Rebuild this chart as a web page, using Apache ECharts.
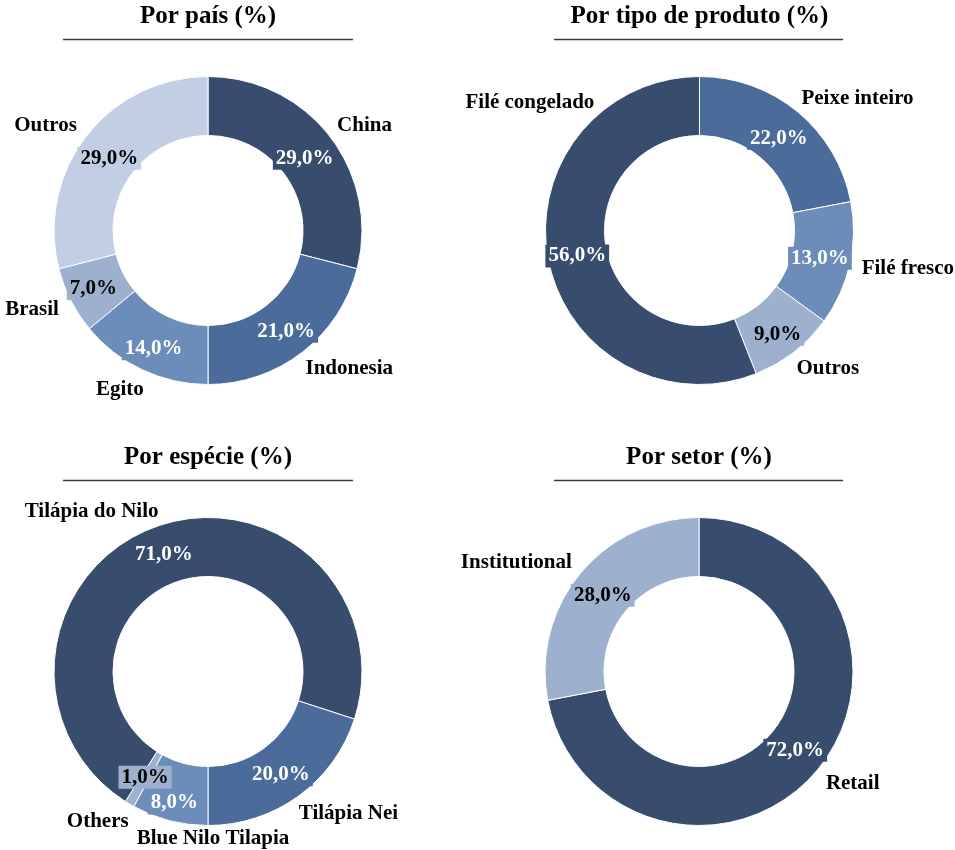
<!DOCTYPE html>
<html><head><meta charset="utf-8">
<script src="https://cdn.jsdelivr.net/npm/echarts@6/dist/echarts.min.js"></script>
<style>html,body{margin:0;padding:0;background:#fff}#c{width:955px;height:850px}</style>
</head><body><div id="c"></div>
<script>
// ---- data ----
const titles = ['Por país (%)', 'Por tipo de produto (%)', 'Por espécie (%)', 'Por setor (%)'];
const paisNames = ['China', 'Indonesia', 'Egito', 'Brasil', 'Outros'];
const paisValues = [29, 21, 14, 7, 29];
const produtoNames = ['Peixe inteiro', 'Filé fresco', 'Outros', 'Filé congelado'];
const produtoValues = [22, 13, 9, 56];
const especieNames = ['Tilápia do Nilo', 'Tilápia Nei', 'Blue Nilo Tilapia', 'Others'];
const especieValues = [71, 20, 8, 1];
const setorNames = ['Retail', 'Institutional'];
const setorValues = [72, 28];

// ---- styling / layout ----
const DARK = '#384D6E', MED = '#4B6B9A', LMED = '#6C8CB9', LIGHT = '#9DB0CE', XLIGHT = '#C2CEE3';
const FONT = '"Liberation Serif", "Times New Roman", serif';

const panels = [
  { title: titles[0], names: paisNames, values: paisValues, center: [208, 230.5], startAngle: 90,
    colors: [DARK, MED, LMED, LIGHT, XLIGHT], text: ['#fff', '#fff', '#fff', '#000', '#000'],
    nameOff: [[4, 13.5], [23, -14], [-6, -16], [-4, -9], [-10, 13.5]],
    valOff: [[-4, 6], [0, 0], [0, 3], [-1, 0], [2, 6]],
    titleY: 4, lineY: 39.5, lineX: [63, 353] },
  { title: titles[1], names: produtoNames, values: produtoValues, center: [699.5, 230.5], startAngle: 90,
    colors: [MED, LMED, LIGHT, DARK], text: ['#fff', '#fff', '#000', '#fff'],
    nameOff: [[35, 17], [20, -4], [10, -14], [20, -164]],
    valOff: [[-2, 6], [-4, 0], [0, 3], [3, 1.5]],
    titleY: 4, lineY: 39.5, lineX: [554, 843] },
  { title: titles[2], names: especieNames, values: especieValues, center: [208, 671.5], startAngle: 237.6,
    colors: [DARK, MED, LMED, LIGHT], text: ['#fff', '#fff', '#fff', '#000'],
    nameOff: [[-51, 21.5], [27, -14], [53, -20], [-12, -16]],
    valOff: [[-1, 3], [-2, 0], [-2, 8], [2, -4]],
    titleY: 444.7, lineY: 480.5, lineX: [63, 353] },
  { title: titles[3], names: setorNames, values: setorValues, center: [699, 671.5], startAngle: 90,
    colors: [DARK, LIGHT], text: ['#fff', '#000'],
    nameOff: [[5, -11], [-34, 14]],
    valOff: [[-2, -2.5], [2, 5]],
    titleY: 444.7, lineY: 480.5, lineX: [554, 843] }
];

const fmt = v => v.toFixed(1).replace('.', ',') + '%';

const series = [];
const titleOpts = [];
const graphics = [];
panels.forEach(p => {
  titleOpts.push({
    text: p.title, left: p.center[0], top: p.titleY, textAlign: 'center', padding: 0,
    textStyle: { fontFamily: FONT, fontWeight: 'bold', fontSize: 25, color: '#000' }
  });
  graphics.push({
    type: 'line', silent: true,
    shape: { x1: p.lineX[0], y1: p.lineY, x2: p.lineX[1], y2: p.lineY },
    style: { stroke: '#3c3c3c', lineWidth: 1.3 }
  });
  // ring with value labels
  series.push({
    type: 'pie', center: p.center, radius: [95, 154], startAngle: p.startAngle, clockwise: true,
    silent: true, avoidLabelOverlap: false,
    itemStyle: { borderColor: '#fff', borderWidth: 1 },
    label: { show: true, position: 'inside', rotate: 0, formatter: d => fmt(d.value),
      fontFamily: FONT, fontWeight: 'bold', fontSize: 21, padding: [1, 3] },
    labelLine: { show: false },
    emphasis: { disabled: true },
    labelLayout: d => ({ dx: p.valOff[d.dataIndex][0], dy: p.valOff[d.dataIndex][1] }),
    data: p.values.map((v, i) => ({
      value: v, name: p.names[i],
      itemStyle: { color: p.colors[i] },
      label: { color: p.text[i], backgroundColor: p.colors[i] }
    }))
  });
  // invisible ring carrying the category labels outside
  series.push({
    type: 'pie', center: p.center, radius: [185, 195], startAngle: p.startAngle, clockwise: true,
    silent: true, avoidLabelOverlap: false,
    itemStyle: { color: 'rgba(0,0,0,0)', borderWidth: 0 },
    label: { show: true, position: 'inside', rotate: 0, formatter: '{b}',
      fontFamily: FONT, fontWeight: 'bold', fontSize: 21, color: '#000' },
    labelLine: { show: false },
    emphasis: { disabled: true },
    labelLayout: d => ({ dx: p.nameOff[d.dataIndex][0], dy: p.nameOff[d.dataIndex][1] }),
    data: p.values.map((v, i) => ({ value: v, name: p.names[i] }))
  });
});

const chart = echarts.init(document.getElementById('c'), null, { renderer: 'canvas' });
chart.setOption({
  animation: false,
  backgroundColor: '#fff',
  title: titleOpts,
  graphic: graphics,
  series: series
});
</script>
</body></html>
